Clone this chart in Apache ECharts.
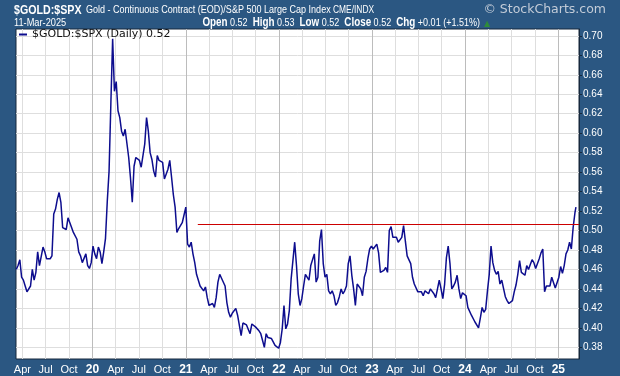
<!DOCTYPE html>
<html>
<head>
<meta charset="utf-8">
<script src="https://cdn.jsdelivr.net/npm/echarts@6/dist/echarts.min.js"></script>
<style>
  html, body { margin: 0; padding: 0; background: #2b5782; }
  #chart { width: 620px; height: 376px; }
</style>
</head>
<body>
<div id="chart"></div>
<script>
// weekly (Friday) closes of $GOLD:$SPX
const firstFriday = '2019-03-08'
const ratio2019 = [0.460, 0.464, 0.470, 0.452, 0.449, 0.443, 0.437, 0.438, 0.443, 0.460, 0.449, 0.457, 0.478, 0.464, 0.464, 0.483, 0.478, 0.471, 0.472, 0.471, 0.474, 0.517, 0.522, 0.532, 0.539, 0.529, 0.503, 0.503, 0.501, 0.513, 0.515, 0.503, 0.498, 0.500, 0.491, 0.478, 0.474, 0.467, 0.469, 0.476, 0.464, 0.461, 0.467]
const ratio2020 = [0.484, 0.476, 0.471, 0.483, 0.478, 0.466, 0.478, 0.492, 0.530, 0.561, 0.630, 0.697, 0.643, 0.653, 0.623, 0.616, 0.602, 0.597, 0.604, 0.602, 0.575, 0.554, 0.529, 0.566, 0.575, 0.573, 0.572, 0.565, 0.565, 0.589, 0.616, 0.602, 0.580, 0.573, 0.561, 0.555, 0.577, 0.572, 0.572, 0.570, 0.553, 0.551, 0.563, 0.572, 0.555, 0.537, 0.524, 0.498, 0.502, 0.502, 0.508, 0.507]
const ratio2021 = [0.524, 0.486, 0.483, 0.488, 0.476, 0.467, 0.455, 0.455, 0.443, 0.442, 0.438, 0.442, 0.431, 0.423, 0.425, 0.425, 0.421, 0.431, 0.447, 0.455, 0.451, 0.451, 0.443, 0.426, 0.416, 0.411, 0.415, 0.416, 0.420, 0.413, 0.411, 0.392, 0.405, 0.403, 0.403, 0.402, 0.394, 0.404, 0.406, 0.401, 0.401, 0.397, 0.394, 0.387, 0.380, 0.394, 0.390, 0.389, 0.389, 0.390, 0.382, 0.384, 0.379]
const ratio2022 = [0.385, 0.399, 0.423, 0.399, 0.404, 0.418, 0.450, 0.452, 0.488, 0.464, 0.435, 0.423, 0.430, 0.443, 0.455, 0.455, 0.449, 0.464, 0.462, 0.476, 0.447, 0.452, 0.489, 0.501, 0.466, 0.452, 0.455, 0.438, 0.435, 0.438, 0.433, 0.423, 0.426, 0.432, 0.440, 0.435, 0.438, 0.443, 0.466, 0.474, 0.454, 0.440, 0.423, 0.445, 0.445, 0.440, 0.433, 0.452, 0.458, 0.471, 0.481, 0.484]
const ratio2023 = [0.481, 0.483, 0.486, 0.477, 0.457, 0.455, 0.459, 0.462, 0.457, 0.500, 0.504, 0.493, 0.494, 0.493, 0.488, 0.489, 0.493, 0.505, 0.489, 0.474, 0.474, 0.466, 0.452, 0.445, 0.443, 0.437, 0.435, 0.437, 0.433, 0.438, 0.437, 0.435, 0.440, 0.438, 0.435, 0.431, 0.440, 0.449, 0.440, 0.430, 0.445, 0.472, 0.484, 0.466, 0.440, 0.443, 0.447, 0.454, 0.440, 0.430, 0.436, 0.437]
const ratio2024 = [0.433, 0.421, 0.420, 0.413, 0.414, 0.406, 0.405, 0.400, 0.410, 0.421, 0.416, 0.419, 0.438, 0.455, 0.484, 0.467, 0.459, 0.455, 0.458, 0.445, 0.449, 0.450, 0.432, 0.428, 0.425, 0.426, 0.428, 0.437, 0.444, 0.455, 0.469, 0.457, 0.456, 0.454, 0.464, 0.460, 0.465, 0.470, 0.467, 0.461, 0.459, 0.471, 0.477, 0.481, 0.437, 0.443, 0.445, 0.443, 0.452, 0.450, 0.441, 0.443]
const ratio2025 = [0.452, 0.463, 0.456, 0.464, 0.476, 0.480, 0.488, 0.481, 0.503, 0.518]
const lastClose = ['2025-03-11', 0.524]

const trendFrom = '2021-02-17'
const trendTo = '2025-03-23'
const trendLevel = 0.506

const xStart = '2019-03-07'
const xEnd = '2025-03-23'
const quarterTicks = ['2019-04-01', '2019-07-01', '2019-10-01', '2020-01-01', '2020-04-01', '2020-07-01', '2020-10-01', '2021-01-01', '2021-04-01', '2021-07-01', '2021-10-01', '2022-01-01', '2022-04-01', '2022-07-01', '2022-10-01', '2023-01-01', '2023-04-01', '2023-07-01', '2023-10-01', '2024-01-01', '2024-04-01', '2024-07-01', '2024-10-01', '2025-01-01']
const yearTicks = ['2020-01-01', '2021-01-01', '2022-01-01', '2023-01-01', '2024-01-01', '2025-01-01']
const monthNames = ['Jan', 'Feb', 'Mar', 'Apr', 'May', 'Jun', 'Jul', 'Aug', 'Sep', 'Oct', 'Nov', 'Dec']
const yTicks = [0.38, 0.40, 0.42, 0.44, 0.46, 0.48, 0.50, 0.52, 0.54, 0.56, 0.58, 0.60, 0.62, 0.64, 0.66, 0.68, 0.70]

const seriesName = '$GOLD:$SPX (Daily) 0.52'
const sans = '"Liberation Sans", Arial, sans-serif'

function toTime(s) {
  const [y, m, d] = s.split('-').map(Number)
  return new Date(y, m - 1, d).getTime()
}

const weekly = [].concat(ratio2019, ratio2020, ratio2021, ratio2022, ratio2023, ratio2024, ratio2025)
const d0 = new Date(toTime(firstFriday))
const points = weekly.map((v, i) => [new Date(d0.getFullYear(), d0.getMonth(), d0.getDate() + 7 * i).getTime(), v])
points.push([toTime(lastClose[0]), lastClose[1]])

const chart = echarts.init(document.getElementById('chart'))

chart.setOption({
  animation: false,
  backgroundColor: '#2b5782',
  grid: {
    left: 16,
    top: 29,
    width: 563,
    height: 331,
    show: true,
    backgroundColor: '#ffffff',
    borderColor: '#16283c',
    borderWidth: 1
  },
  legend: {
    left: 19,
    top: 29,
    padding: 0,
    icon: 'rect',
    itemWidth: 8,
    itemHeight: 2,
    itemGap: 5,
    data: [seriesName],
    textStyle: {
      color: '#111111',
      fontFamily: '"DejaVu Sans", sans-serif',
      fontSize: 11
    }
  },
  graphic: [
    {
      type: 'text', x: 14, y: 10, scaleX: 0.82,
      style: { text: '$GOLD:$SPX', fill: '#ffffff', font: 'bold 13px ' + sans, textVerticalAlign: 'middle' }
    },
    {
      type: 'text', x: 86, y: 10, scaleX: 0.82,
      style: { text: 'Gold - Continuous Contract (EOD)/S&P 500 Large Cap Index', fill: '#ffffff', font: '11px ' + sans, textVerticalAlign: 'middle' }
    },
    {
      type: 'text', x: 333, y: 10, scaleX: 0.84,
      style: { text: 'CME/INDX', fill: '#ffffff', font: '10px ' + sans, textVerticalAlign: 'middle' }
    },
    {
      type: 'text', x: 606, y: 10,
      style: { text: '\u00a9 StockCharts.com', fill: '#c3ccd8', font: '12.5px "DejaVu Sans", sans-serif', textAlign: 'right', textVerticalAlign: 'middle' }
    },
    {
      type: 'text', x: 14, y: 23, scaleX: 0.84,
      style: { text: '11-Mar-2025', fill: '#ffffff', font: '11px ' + sans, textVerticalAlign: 'middle' }
    },
    {
      type: 'text', x: 480, y: 23, scaleX: 0.82,
      style: {
        text: '{b|Open} 0.52  {b|High} 0.53  {b|Low} 0.52  {b|Close} 0.52  {b|Chg} +0.01 (+1.51%)',
        fill: '#ffffff',
        font: '11px ' + sans,
        textAlign: 'right',
        textVerticalAlign: 'middle',
        rich: {
          b: { fill: '#ffffff', font: 'bold 12px ' + sans }
        }
      }
    },
    {
      type: 'text', x: 487, y: 24,
      style: { text: '\u25b2', fill: '#2e8b3a', font: '8px "DejaVu Sans", sans-serif', textAlign: 'center', textVerticalAlign: 'middle' }
    }
  ],
  xAxis: [
    {
      type: 'value',
      min: toTime(xStart),
      max: toTime(xEnd),
      axisLine: { show: false },
      axisTick: { show: false, customValues: quarterTicks.map(toTime) },
      axisLabel: {
        customValues: quarterTicks.map(toTime),
        color: '#ffffff',
        fontSize: 11,
        fontFamily: sans,
        margin: 5,
        formatter: function (value) {
          const d = new Date(value)
          if (d.getMonth() === 0) {
            return '{yr|' + String(d.getFullYear()).slice(2) + '}'
          }
          return monthNames[d.getMonth()]
        },
        rich: {
          yr: { color: '#ffffff', fontWeight: 'bold', fontSize: 12, fontFamily: sans }
        }
      },
      splitLine: { show: true, lineStyle: { color: '#dedede', width: 1 } }
    },
    {
      type: 'value',
      min: toTime(xStart),
      max: toTime(xEnd),
      position: 'bottom',
      axisLine: { show: false },
      axisTick: { show: false, customValues: yearTicks.map(toTime) },
      axisLabel: { show: false, customValues: yearTicks.map(toTime) },
      splitLine: { show: true, lineStyle: { color: '#bcbcbc', width: 1 } }
    }
  ],
  yAxis: {
    type: 'value',
    position: 'right',
    min: 0.368,
    max: 0.707,
    axisLine: { show: true, lineStyle: { color: '#16283c' } },
    axisTick: { show: true, length: 3, customValues: yTicks, lineStyle: { color: '#16283c' } },
    axisLabel: {
      customValues: yTicks,
      color: '#ffffff',
      fontSize: 10,
      fontFamily: sans,
      margin: 4,
      formatter: v => v.toFixed(2)
    },
    splitLine: { show: true, lineStyle: { color: '#dedede', width: 1 } }
  },
  series: [{
    name: seriesName,
    type: 'line',
    data: points,
    showSymbol: false,
    symbol: 'none',
    color: '#0d0d8e',
    lineStyle: { color: '#0d0d8e', width: 1.5 },
    markLine: {
      silent: true,
      symbol: 'none',
      label: { show: false },
      lineStyle: { color: '#cc0000', width: 1, type: 'solid' },
      data: [[
        { coord: [toTime(trendFrom), trendLevel] },
        { coord: [toTime(trendTo), trendLevel] }
      ]]
    }
  }]
})
</script>
</body>
</html>
